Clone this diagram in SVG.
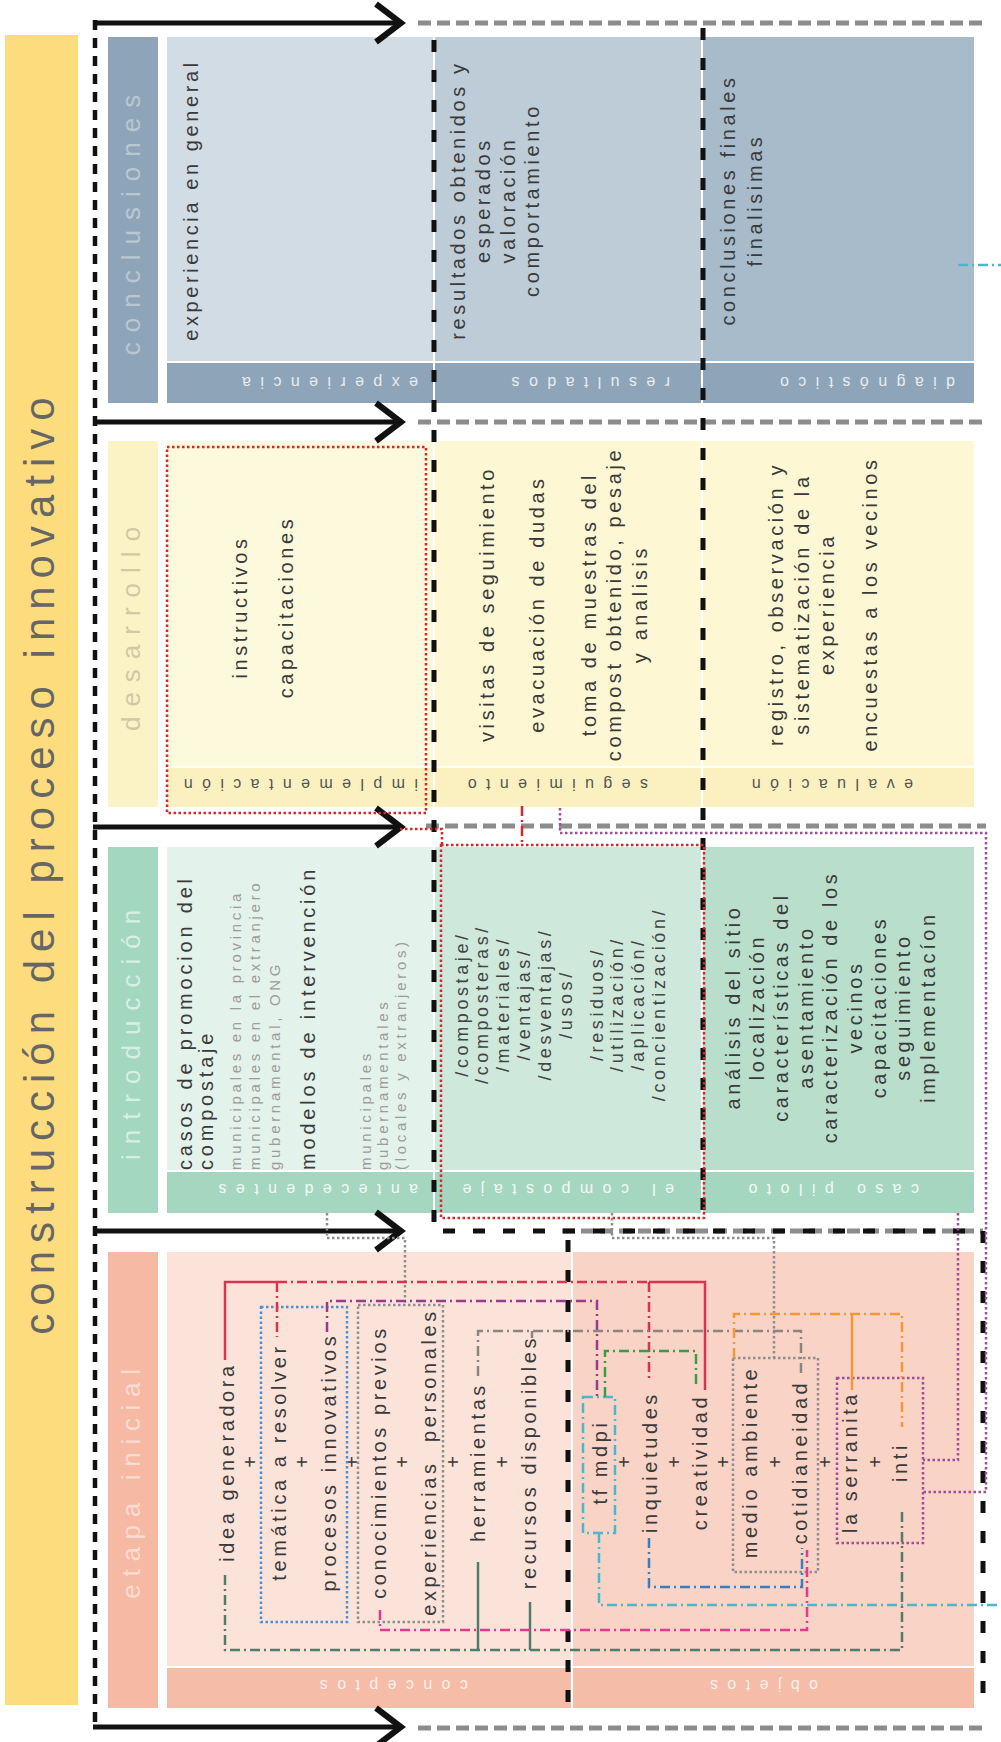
<svg xmlns="http://www.w3.org/2000/svg" width="1001" height="1742" viewBox="0 0 1001 1742">
<style>
text{font-family:"Liberation Sans",Arial,sans-serif}
.m{font-size:20px;letter-spacing:3.6px;fill:#3a3a3a;text-anchor:middle}
.ms{font-size:20px;letter-spacing:3.8px;fill:#3a3a3a;text-anchor:start}
.sm{font-size:15px;letter-spacing:3.7px;fill:#9c9c9c;text-anchor:start}
.sl{font-size:18px;letter-spacing:3.6px;fill:#444;text-anchor:middle}
.pl{font-size:20px;fill:#3a3a3a;text-anchor:middle}
.lab{font-size:16px;letter-spacing:9.4px;text-anchor:start}
.st{font-size:26px;letter-spacing:10px;text-anchor:middle}
.ttl{font-size:42px;letter-spacing:8px;fill:#666;text-anchor:middle}
.dd{fill:none;stroke-width:2.5;stroke-dasharray:10 4 2 4}
.dt{fill:none;stroke-width:2.5;stroke-dasharray:2.5 2.5}
.so{fill:none;stroke-width:2.5}
.bd{fill:none;stroke:#111;stroke-width:5;stroke-dasharray:12 18}
.bl{fill:none;stroke:#111;stroke-width:4.5;stroke-dasharray:10 8}
.gd{fill:none;stroke:#8c8c8c;stroke-width:5;stroke-dasharray:13 6}
.ar{fill:none;stroke:#111;stroke-width:5}
.ah{fill:none;stroke:#111;stroke-width:6}
</style>
<rect x="0" y="0" width="1001" height="1742" fill="#fff"/>

<g id="titulo">
<rect x="5" y="35" width="73" height="1670" fill="#fcdc7c"/>
<text class="ttl" transform="translate(54 862) rotate(-90)">construcción del proceso innovativo</text>
</g>

<g id="conclusiones">
<rect x="108" y="37" width="50" height="366" fill="#8ea5b9"/>
<text class="st" fill="#b9c7d3" transform="translate(140 220) rotate(-90)">conclusiones</text>
<rect x="167" y="37" width="266" height="324" fill="#d2dce4"/>
<rect x="435" y="37" width="266" height="324" fill="#bdccd7"/>
<rect x="703" y="37" width="271" height="324" fill="#a8bbcb"/>
<rect x="167" y="363" width="266" height="40" fill="#8ea5b9"/>
<rect x="435" y="363" width="266" height="40" fill="#8ea5b9"/>
<rect x="703" y="363" width="271" height="40" fill="#8ea5b9"/>
<text class="lab" fill="#e6ecf1" transform="translate(418 377) rotate(180)">experiencia</text>
<text class="lab" fill="#e6ecf1" transform="translate(670 377) rotate(180)">resultados</text>
<text class="lab" fill="#e6ecf1" transform="translate(955 377) rotate(180)">diagnóstico</text>
<text class="m" transform="translate(198 200) rotate(-90)">experiencia en general</text>
<text class="m" transform="translate(465 200) rotate(-90)">resultados obtenidos y</text>
<text class="m" transform="translate(490 200) rotate(-90)">esperados</text>
<text class="m" transform="translate(515 200) rotate(-90)">valoración</text>
<text class="m" transform="translate(539 200) rotate(-90)">comportamiento</text>
<text class="m" transform="translate(735 200) rotate(-90)">conclusiones finales</text>
<text class="m" transform="translate(762 200) rotate(-90)">finalisimas</text>
</g>

<g id="desarrollo">
<rect x="108" y="441" width="50" height="366" fill="#fbf3c6"/>
<text class="st" fill="#d0c8a6" transform="translate(140 624) rotate(-90)">desarrollo</text>
<rect x="167" y="441" width="266" height="325" fill="#fdf9dc"/>
<rect x="435" y="441" width="266" height="325" fill="#fdf7d4"/>
<rect x="703" y="441" width="271" height="325" fill="#fdf7d4"/>
<rect x="167" y="768" width="266" height="39" fill="#fbf1c0"/>
<rect x="435" y="768" width="266" height="39" fill="#fbf1c0"/>
<rect x="703" y="768" width="271" height="39" fill="#fbf1c0"/>
<text class="lab" fill="#555" transform="translate(418 779) rotate(180)">implementación</text>
<text class="lab" fill="#555" transform="translate(648 779) rotate(180)">seguimiento</text>
<text class="lab" fill="#555" transform="translate(913 779) rotate(180)">evaluación</text>
<text class="m" transform="translate(246.5 607) rotate(-90)">instructivos</text>
<text class="m" transform="translate(292.5 607) rotate(-90)">capacitaciones</text>
<text class="m" transform="translate(493.5 604) rotate(-90)">visitas de seguimiento</text>
<text class="m" transform="translate(543.5 604) rotate(-90)">evacuación de dudas</text>
<text class="m" transform="translate(595.5 604) rotate(-90)">toma de muestras del</text>
<text class="m" transform="translate(621 604) rotate(-90)">compost obtenido, pesaje</text>
<text class="m" transform="translate(646.5 604) rotate(-90)">y analisis</text>
<text class="m" transform="translate(783 604) rotate(-90)">registro, observación y</text>
<text class="m" transform="translate(808.5 604) rotate(-90)">sistematización de la</text>
<text class="m" transform="translate(834 604) rotate(-90)">experiencia</text>
<text class="m" transform="translate(876.5 604) rotate(-90)">encuestas a los vecinos</text>
</g>

<g id="introduccion">
<rect x="108" y="847" width="50" height="366" fill="#a3d7c0"/>
<text class="st" fill="#d6efe3" transform="translate(140 1030) rotate(-90)">introducción</text>
<rect x="167" y="847" width="266" height="323" fill="#e3f2ea"/>
<rect x="435" y="847" width="266" height="323" fill="#cfe8dc"/>
<rect x="703" y="847" width="271" height="323" fill="#b9dfcc"/>
<rect x="167" y="1172" width="266" height="41" fill="#a5d6c0"/>
<rect x="435" y="1172" width="266" height="41" fill="#a5d6c0"/>
<rect x="703" y="1172" width="271" height="41" fill="#a5d6c0"/>
<text class="lab" fill="#f2faf6" transform="translate(418 1184) rotate(180)">antecedentes</text>
<text class="lab" fill="#f2faf6" transform="translate(674 1184) rotate(180)">el compostaje</text>
<text class="lab" fill="#f2faf6" transform="translate(919 1184) rotate(180)">caso piloto</text>
<text class="ms" transform="translate(191.5 1170) rotate(-90)">casos de promocion del</text>
<text class="ms" transform="translate(212.5 1170) rotate(-90)">compostaje</text>
<text class="sm" transform="translate(241 1170) rotate(-90)">municipales en la provincia</text>
<text class="sm" transform="translate(260 1170) rotate(-90)">municipales en el extranjero</text>
<text class="sm" transform="translate(280 1170) rotate(-90)">gubernamental, ONG</text>
<text class="ms" transform="translate(314.5 1170) rotate(-90)">modelos de intervención</text>
<text class="sm" transform="translate(371 1170) rotate(-90)">municipales</text>
<text class="sm" transform="translate(388 1170) rotate(-90)">gubernamentales</text>
<text class="sm" transform="translate(406 1170) rotate(-90)">(locales y extranjeros)</text>
<text class="sl" transform="translate(467.6 1004) rotate(-90)">/compostaje/</text>
<text class="sl" transform="translate(488.4 1004) rotate(-90)">/composteras/</text>
<text class="sl" transform="translate(509.2 1004) rotate(-90)">/materiales/</text>
<text class="sl" transform="translate(530 1004) rotate(-90)">/ventajas/</text>
<text class="sl" transform="translate(550.8 1004) rotate(-90)">/desventajas/</text>
<text class="sl" transform="translate(571.6 1004) rotate(-90)">/usos/</text>
<text class="sl" transform="translate(602.6 1004) rotate(-90)">/residuos/</text>
<text class="sl" transform="translate(623.4 1004) rotate(-90)">/utilización/</text>
<text class="sl" transform="translate(644.2 1004) rotate(-90)">/aplicación/</text>
<text class="sl" transform="translate(665 1004) rotate(-90)">/concientización/</text>
<text class="m" transform="translate(739.5 1007) rotate(-90)">análisis del sitio</text>
<text class="m" transform="translate(763.9 1007) rotate(-90)">localización</text>
<text class="m" transform="translate(788.3 1007) rotate(-90)">características del</text>
<text class="m" transform="translate(812.7 1007) rotate(-90)">asentamiento</text>
<text class="m" transform="translate(837.1 1007) rotate(-90)">caracterización de los</text>
<text class="m" transform="translate(861.5 1007) rotate(-90)">vecinos</text>
<text class="m" transform="translate(885.9 1007) rotate(-90)">capacitaciones</text>
<text class="m" transform="translate(910.3 1007) rotate(-90)">seguimiento</text>
<text class="m" transform="translate(934.7 1007) rotate(-90)">implementacíon</text>
</g>

<g id="etapa-inicial">
<rect x="108" y="1252" width="50" height="456" fill="#f5b9a4"/>
<text class="st" fill="#fbdcd0" style="letter-spacing:7.7px" transform="translate(140 1480) rotate(-90)">etapa inicial</text>
<rect x="167" y="1252" width="404" height="414" fill="#fce3da"/>
<rect x="573" y="1252" width="401" height="414" fill="#f9d3c5"/>
<rect x="167" y="1668" width="404" height="40" fill="#f5bca7"/>
<rect x="573" y="1668" width="401" height="40" fill="#f5bca7"/>
<text class="lab" fill="#fdf0ea" transform="translate(468 1680) rotate(180)">conceptos</text>
<text class="lab" fill="#fdf0ea" transform="translate(818 1680) rotate(180)">objetos</text>
<text class="m" transform="translate(233.5 1462) rotate(-90)">idea generadora</text>
<text class="pl" transform="translate(257 1462) rotate(-90)">+</text>
<text class="m" transform="translate(285.5 1462) rotate(-90)">temática a resolver</text>
<text class="pl" transform="translate(309 1462) rotate(-90)">+</text>
<text class="m" transform="translate(335.5 1462) rotate(-90)">procesos innovativos</text>
<text class="pl" transform="translate(359 1462) rotate(-90)">+</text>
<text class="m" transform="translate(385.5 1462) rotate(-90)">conocimientos previos</text>
<text class="pl" transform="translate(409 1462) rotate(-90)">+</text>
<text class="m" transform="translate(435.5 1462) rotate(-90)">experiencias&#160; personales</text>
<text class="pl" transform="translate(460 1462) rotate(-90)">+</text>
<text class="m" transform="translate(484.5 1462) rotate(-90)">herramientas</text>
<text class="pl" transform="translate(509 1462) rotate(-90)">+</text>
<text class="m" transform="translate(535.5 1462) rotate(-90)">recursos disponibles</text>
<text class="m" transform="translate(606.5 1462) rotate(-90)">tf mdpi</text>
<text class="pl" transform="translate(630.5 1462) rotate(-90)">+</text>
<text class="m" transform="translate(656.5 1462) rotate(-90)">inquietudes</text>
<text class="pl" transform="translate(680.5 1462) rotate(-90)">+</text>
<text class="m" transform="translate(706.5 1462) rotate(-90)">creatividad</text>
<text class="pl" transform="translate(729.5 1462) rotate(-90)">+</text>
<text class="m" transform="translate(756.5 1462) rotate(-90)">medio ambiente</text>
<text class="pl" transform="translate(781.5 1462) rotate(-90)">+</text>
<text class="m" transform="translate(806.5 1462) rotate(-90)">cotidianeidad</text>
<text class="pl" transform="translate(831.5 1462) rotate(-90)">+</text>
<text class="m" transform="translate(856.5 1462) rotate(-90)">la serranita</text>
<text class="pl" transform="translate(881.5 1462) rotate(-90)">+</text>
<text class="m" transform="translate(906.5 1462) rotate(-90)">inti</text>
</g>

<g id="conectores">
<path class="gd" d="M418 23H983M418 422H983M426 826H986M562 1231H983M418 1728H983"/>
<path class="bl" d="M95 20V1728"/>
<path class="bd" d="M434 40V1231H983V1705M703 28V1219M568 1240V1705"/>
<path class="ar" d="M93 23H400M93 422H400M93 827H400M93 1231H400M93 1727H400"/>
<path class="ah" d="M376 4L401 23L376 42M376 403L401 422L376 441M376 808L401 827L376 846M376 1212L401 1231L376 1250M376 1708L401 1727L376 1746"/>
<g stroke="#d8262b">
<rect class="dt" x="167" y="447" width="259" height="366"/>
<rect class="dt" x="441" y="845" width="263" height="373"/>
<path class="dt" d="M400 829H442V845"/>
<path class="dd" d="M522 806V845"/>
</g>
<g stroke="#a04d9c">
<path class="dt" d="M560 808V833H986V1492H923"/>
<path class="dt" d="M958 1213V1460H923"/>
<rect class="dt" x="837" y="1378" width="86" height="165"/>
</g>
<g stroke="#8e8e8e">
<path class="dt" d="M327 1213V1238H405V1305"/>
<rect class="dt" x="358" y="1305" width="85" height="317"/>
<path class="dt" d="M612 1213V1238H774V1358"/>
<rect class="dt" x="733" y="1358" width="85" height="214"/>
</g>
<rect class="dt" stroke="#4a90d4" x="261" y="1307" width="86" height="315"/>
<g stroke="#d93350">
<path class="so" d="M225 1360V1282H277M649 1282H705V1390"/>
<path class="dd" d="M277 1282H649M277 1282V1337M649 1282V1380"/>
</g>
<path class="dd" stroke="#983b8c" d="M327 1332V1301H597V1397"/>
<path class="dd" stroke="#8b8580" d="M478 1376V1331H801V1376"/>
<path class="so" stroke="#8b8580" d="M532 1331V1338"/>
<path class="dd" stroke="#4f7d67" d="M225 1575V1650H902V1508"/>
<path class="so" stroke="#4f7d67" d="M478 1562V1650M530 1602V1650"/>
<path class="dd" stroke="#e23a8e" d="M380 1610V1630H807V1550"/>
<path class="dd" stroke="#3a7ec2" d="M649 1538V1587H802V1548"/>
<g stroke="#4cb6cc">
<rect class="dd" x="583" y="1397" width="32" height="136"/>
<path class="dd" d="M599 1533V1605H1001M958 265H1001"/>
</g>
<path class="dd" stroke="#3b9c48" d="M605 1397V1351H696V1388"/>
<g stroke="#f2973a">
<path class="dd" d="M734 1358V1314H902V1427"/>
<path class="so" d="M852 1314V1390"/>
</g>
</g>
</svg>
